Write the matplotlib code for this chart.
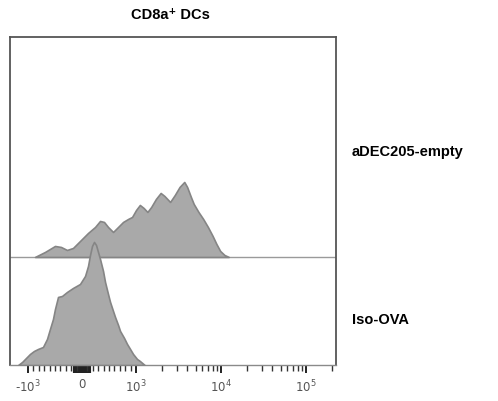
import numpy as np
import matplotlib.pyplot as plt

# histogram outlines (fluorescence value, height)
empty_x = [-870, -685, -500, -389, -278, -167, -37, 111, 241, 333, 407, 481, 574,
           667, 759, 852, 926, 1000, 1108, 1227, 1359, 1506, 1711, 1945, 2154,
           2512, 2855, 3245, 3687, 3981, 4410, 4762, 5412, 6150, 6988, 7943,
           8799, 9747, 10930, 12290]
empty_y = [0, 5, 11, 10, 7, 9, 16, 24, 30, 36, 35, 30, 25, 30, 35, 38, 40, 47,
           52, 49, 45, 50, 58, 64, 61, 55, 62, 70, 75, 70, 60, 53, 45, 38, 30,
           21, 13, 6, 2, 0]

iso_x = [-1303, -1172, -1054, -963, -889, -815, -722, -648, -593, -537, -500,
         -444, -370, -278, -167, -37, 56, 111, 148, 185, 222, 259, 296, 333,
         389, 426, 481, 519, 574, 611, 667, 704, 778, 833, 889, 944, 1026,
         1108, 1259]
iso_y = [0, 3, 7, 11, 14, 16, 18, 26, 36, 46, 56, 68, 69, 73, 77, 81, 89, 99,
         110, 119, 123, 120, 113, 106, 94, 83, 71, 63, 54, 48, 40, 34, 27, 21,
         16, 11, 6, 4, 0]

samples = ['aDEC205-empty', 'Iso-OVA']
offset = 108
major_ticks = [-1000, -125, -75, -25, 0, 25, 75, 125, 1000, 1e4, 1e5]
major_labels = ['-10$^3$', '', '', '', '0', '', '', '', '10$^3$', '10$^4$', '10$^5$']

fill = '#a9a9a9'
edge = '#858585'

fig = plt.figure(figsize=(4.98, 4.02), dpi=100)
ax = fig.add_axes([0.020, 0.0896, 0.655, 0.816])

ax.set_xscale('symlog', linthresh=1000, linscale=0.572)

# upper sample sits on the separator line
ax.axhline(offset, color='#9a9a9a', lw=1.0, zorder=1)
ax.fill_between(empty_x, offset, np.array(empty_y) + offset, facecolor=fill,
                edgecolor=edge, lw=1.2, zorder=2)
ax.fill_between(iso_x, 0, iso_y, facecolor=fill, edgecolor=edge, lw=1.2, zorder=3)

for s in ['left', 'top', 'right']:
    ax.spines[s].set_color('#555555')
    ax.spines[s].set_linewidth(1.3)
ax.spines['bottom'].set_color('#8a8a8a')
ax.spines['bottom'].set_linewidth(1.0)

ax.set_yticks([])
ax.set_xticks(major_ticks)
ax.set_xticklabels(major_labels)
minor = [v for v in range(-900, 1000, 100) if v != 0]
minor += [m * 10 ** e for e in (3, 4) for m in range(2, 10)] + [2e5]
ax.set_xticks(minor, minor=True)
ax.tick_params(axis='x', which='major', length=6, width=1.4, color='#222222',
               labelsize=8.5, labelcolor='#555555', pad=3)
ax.tick_params(axis='x', which='minor', length=4, width=1.0, color='#333333')
# dense block of ticks around zero
for t in ax.xaxis.get_major_ticks()[1:8]:
    t.tick1line.set_markeredgewidth(3)
    t.tick1line.set_color('#111111')

ax.set_xlim(-1628, 2.25e5)
ax.set_ylim(0, 328)

fig.text(0.342, 0.963, 'CD8a\u207a DCs', ha='center', va='center', fontsize=10.5,
         fontweight='bold', family=['Liberation Sans', 'DejaVu Sans'])
fig.text(0.707, 0.622, samples[0], ha='left', va='center', fontsize=10.5,
         fontweight='bold', family='Liberation Sans')
fig.text(0.707, 0.204, samples[1], ha='left', va='center', fontsize=10.5,
         fontweight='bold', family='Liberation Sans')

fig.savefig('out.png', dpi=100)
